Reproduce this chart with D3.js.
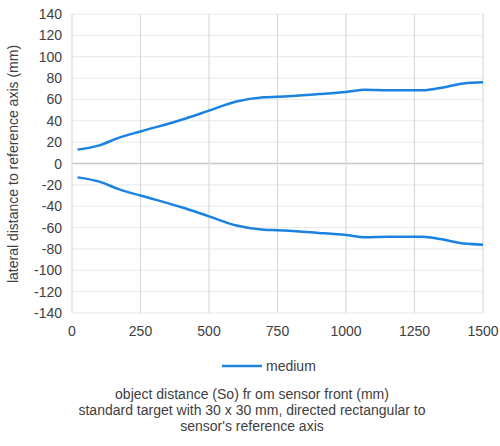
<!DOCTYPE html>
<html><head><meta charset="utf-8">
<script src="https://cdn.jsdelivr.net/npm/d3@7"></script>
<style>body{margin:0;background:#fff}text{font-family:"Liberation Sans",Arial,sans-serif;fill:#404040}</style>
</head><body><svg id="c" width="500" height="446"></svg>
<script>
const distance=[20,100,170,250,400,500,600,700,750,900,1000,1070,1150,1280,1350,1430,1500];
const upper=[13,17,24,30,41,49.5,58,62,62.5,65,67,69,68.5,68.5,71,75,76];
const lower=upper.map(v=>-v);
const xTicks=[0,250,500,750,1000,1250,1500];
const yTicks=d3.range(-140,141,20);
const svg=d3.select("#c");
const x=d3.scaleLinear().domain([0,1500]).range([72,483]);
const y=d3.scaleLinear().domain([-140,140]).range([313,14]);
const g=svg.append("g");
g.selectAll(".h").data(yTicks).join("line").attr("x1",72).attr("x2",483).attr("y1",d=>y(d)).attr("y2",d=>y(d)).attr("stroke",d=>d===0?"#c8c8c8":"#e6eae8").attr("stroke-width",d=>d===0?1.5:1);
g.selectAll(".v").data(xTicks).join("line").attr("x1",d=>x(d)).attr("x2",d=>x(d)).attr("y1",14).attr("y2",313).attr("stroke","#d4dcd8").attr("stroke-width",1.2);
g.selectAll(".yl").data(yTicks).join("text").attr("x",62).attr("y",d=>y(d)+5).attr("text-anchor","end").attr("font-size",14).text(d=>d);
g.selectAll(".xl").data(xTicks).join("text").attr("x",d=>x(d)).attr("y",336).attr("text-anchor","middle").attr("font-size",14).text(d=>d);
const line=d3.line().x((d,i)=>x(distance[i])).y(d=>y(d)).curve(d3.curveMonotoneX);
[upper,lower].forEach(s=>g.append("path").attr("d",line(s)).attr("fill","none").attr("stroke","#1a82e0").attr("stroke-width",2.5));
g.append("text").attr("transform","translate(18,164) rotate(-90)").attr("text-anchor","middle").attr("font-size",14).text("lateral distance to reference axis (mm)");
g.append("line").attr("x1",222).attr("x2",262).attr("y1",366).attr("y2",366).attr("stroke","#1a82e0").attr("stroke-width",2.5);
g.append("text").attr("x",266).attr("y",371).attr("font-size",14).text("medium");
["object distance (So) fr om sensor front (mm)","standard target with 30 x 30 mm, directed rectangular to","sensor's reference axis"].forEach((t,i)=>g.append("text").attr("x",252).attr("y",399+i*16).attr("text-anchor","middle").attr("font-size",14).text(t));
</script></body></html>
